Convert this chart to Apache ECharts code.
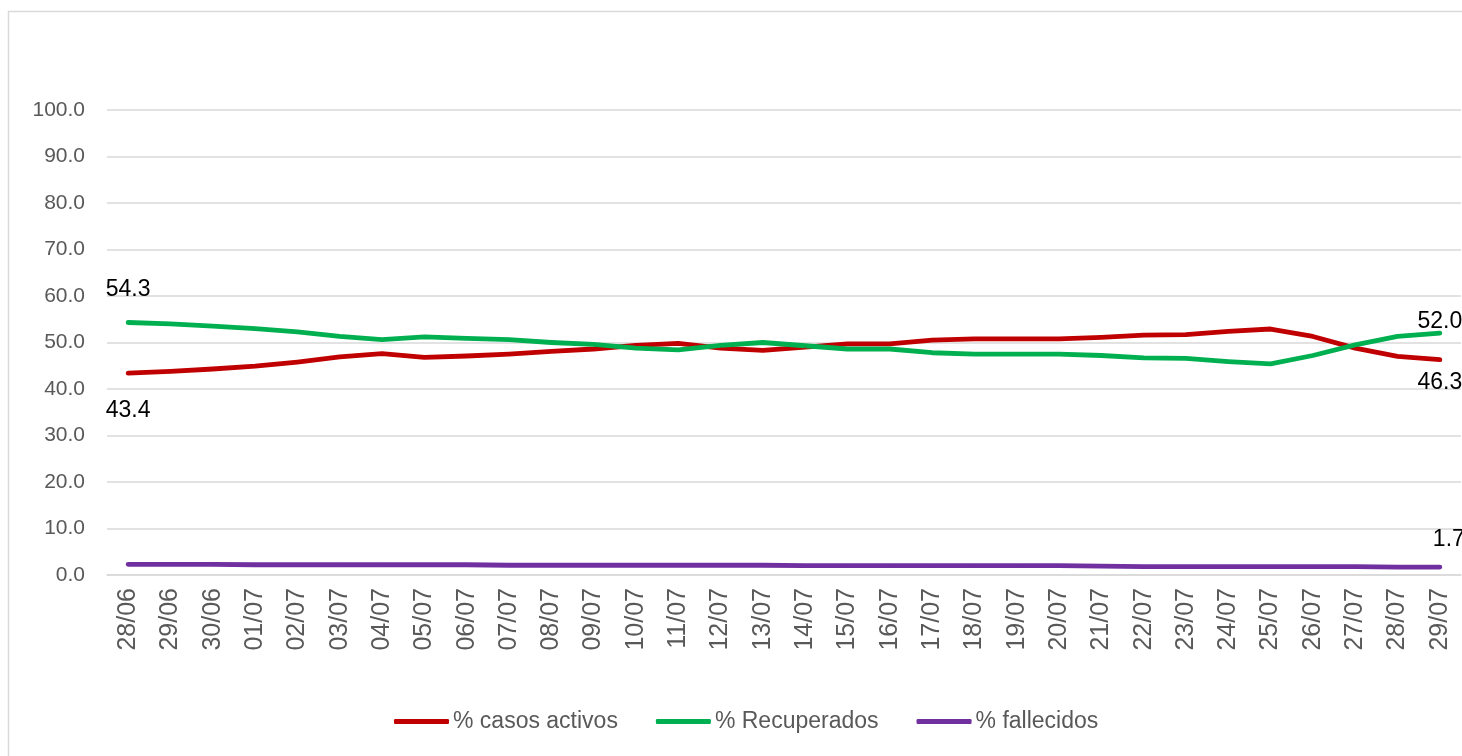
<!DOCTYPE html>
<html>
<head>
<meta charset="utf-8">
<script src="https://cdn.jsdelivr.net/npm/echarts@6/dist/echarts.min.js"></script>
<style>
html,body{margin:0;padding:0;background:#fff;}
#c{width:1462px;height:756px;}
</style>
</head>
<body>
<div id="c"></div>
<script>
const categories = ["28/06","29/06","30/06","01/07","02/07","03/07","04/07","05/07","06/07","07/07","08/07","09/07","10/07","11/07","12/07","13/07","14/07","15/07","16/07","17/07","18/07","19/07","20/07","21/07","22/07","23/07","24/07","25/07","26/07","27/07","28/07","29/07"];
const activos = [43.4,43.8,44.3,44.9,45.8,46.9,47.6,46.8,47.1,47.5,48.1,48.6,49.4,49.8,48.8,48.3,49.0,49.7,49.7,50.5,50.8,50.8,50.8,51.1,51.6,51.7,52.4,52.9,51.3,48.8,47.0,46.3];
const recuperados = [54.3,54.0,53.5,53.0,52.3,51.3,50.6,51.2,50.9,50.6,50.0,49.6,48.8,48.4,49.4,50.0,49.3,48.6,48.6,47.8,47.5,47.5,47.5,47.2,46.7,46.6,45.9,45.4,47.2,49.5,51.3,52.0];
const fallecidos = [2.3,2.3,2.3,2.2,2.2,2.2,2.2,2.2,2.2,2.1,2.1,2.1,2.1,2.1,2.1,2.1,2.0,2.0,2.0,2.0,2.0,2.0,2.0,1.9,1.8,1.8,1.8,1.8,1.8,1.8,1.7,1.7];
const seriesNames = ["% casos activos","% Recuperados","% fallecidos"];
const yTicks = [0,10,20,30,40,50,60,70,80,90,100];

const FONT = "'Liberation Sans', Arial, sans-serif";
const labelStyle = {show:true, color:'#000', fontSize:23, fontFamily:FONT,
  formatter: p => Number(p.value).toFixed(1)};

function withLabels(arr, firstLabel, lastLabel){
  return arr.map((v,i)=>{
    if(i===0 && firstLabel) return {value:v, label:Object.assign({}, labelStyle, firstLabel)};
    if(i===arr.length-1 && lastLabel) return {value:v, label:Object.assign({}, labelStyle, lastLabel)};
    return v;
  });
}

const lineCommon = {type:'line', symbol:'circle', symbolSize:1, showSymbol:true,
  lineStyle:{width:4.8, cap:'round', join:'round'}, label:{show:false}};

const chart = echarts.init(document.getElementById('c'), null, {renderer:'canvas'});
chart.setOption({
  animation:false,
  backgroundColor:'#fff',
  graphic:[{type:'rect', shape:{x:8.5,y:11.5,width:1600,height:900}, style:{fill:'none', stroke:'#d9d9d9', lineWidth:1.5}, silent:true, z:-1}],
  grid:{left:107, right:1, top:110, bottom:181, containLabel:false},
  legend:{
    left:389, top:705, icon:'roundRect', itemWidth:55, itemHeight:5, itemGap:38,
    textStyle:{color:'#595959', fontSize:23, fontFamily:FONT, padding:[0,0,0,-1]},
    data:seriesNames
  },
  xAxis:{
    type:'category', data:categories, boundaryGap:true,
    axisLine:{lineStyle:{color:'#d9d9d9', width:1.5}},
    axisTick:{show:false},
    axisLabel:{rotate:90, color:'#595959', fontSize:25, fontFamily:FONT, margin:13, interval:0}
  },
  yAxis:{
    type:'value', min:yTicks[0], max:yTicks[yTicks.length-1], interval:10,
    axisLine:{show:false}, axisTick:{show:false},
    splitLine:{lineStyle:{color:'#d9d9d9', width:1.5}},
    axisLabel:{color:'#595959', fontSize:21, fontFamily:FONT, margin:22, formatter:v=>v.toFixed(1)}
  },
  series:[
    Object.assign({}, lineCommon, {name:seriesNames[0], color:'#C00000',
     data:withLabels(activos, {position:'bottom', distance:25}, {position:'bottom', distance:11, offset:[0,0]})}),
    Object.assign({}, lineCommon, {name:seriesNames[1], color:'#00B050',
     data:withLabels(recuperados, {position:'top', distance:21}, {position:'top', distance:0, offset:[0,0]})}),
    Object.assign({}, lineCommon, {name:seriesNames[2], color:'#7030A0',
     data:withLabels(fallecidos, null, {position:'top', distance:15, offset:[9,0]})})
  ]
});
</script>
</body>
</html>
